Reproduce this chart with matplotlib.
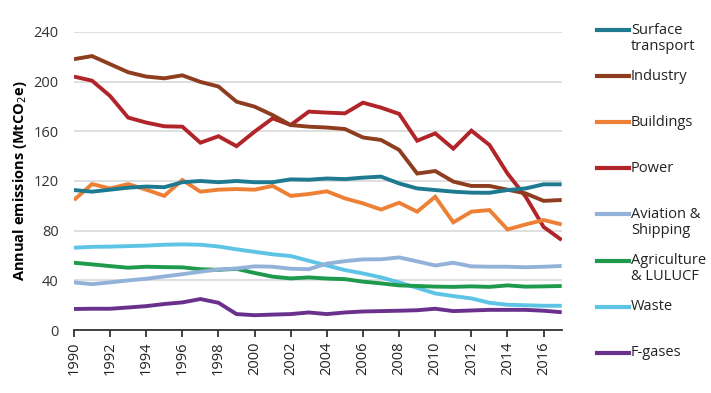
import matplotlib.pyplot as plt
from matplotlib.lines import Line2D

plt.rcParams['font.family'] = ['Open Sans', 'DejaVu Sans']

years = list(range(1990, 2018))

surface_transport = [112.7, 111.4, 113, 114.6, 115.5, 115, 119, 120, 119, 120, 119, 119, 121.3, 121,
                     122, 121.5, 122.7, 123.5, 118, 114, 112.7, 111.4, 110.6, 110.5, 112.7, 114, 117.3, 117.3]
industry = [218, 220.5, 214, 207.5, 204, 202.6, 205, 199.7, 196, 183.8, 179.8, 173, 165, 163.7,
            163, 161.8, 155, 153, 145, 126, 128, 119.5, 116, 116, 113, 110, 104, 104.7]
buildings = [104.7, 117.5, 114, 117.5, 113, 108, 120.8, 111.4, 113, 113.5, 113, 116, 108, 109.5,
             111.7, 106, 102, 97, 102.5, 95.3, 107.3, 86.7, 95.3, 96.6, 81, 85, 88.6, 85]
power = [204, 200.7, 188.4, 171, 167, 164, 163.7, 150.8, 156, 148, 159.7, 170.4, 165, 175.8,
         175, 174.4, 183, 179, 174, 152.4, 158.3, 146, 160.5, 149, 126, 107.5, 83, 72.5]
aviation_shipping = [38.4, 37, 38.4, 40, 41.3, 43.2, 45, 47, 48.8, 49.6, 51.3, 51, 49.4, 49,
                     53.5, 55.5, 56.9, 57, 58.5, 55.3, 52, 54.2, 51.3, 51, 51, 50.6, 51, 51.6]
agriculture = [54.2, 52.9, 51.5, 50.2, 51, 50.7, 50.5, 49, 48.5, 49.3, 46, 43, 41.6, 42.4,
               41.5, 41, 39, 37.6, 36, 35.5, 35, 34.8, 35.2, 34.8, 36, 35, 35.2, 35.5]
waste = [66.3, 67, 67.2, 67.6, 68, 68.7, 69, 68.7, 67.3, 65, 63, 61, 59.6, 55.8,
         52, 48.3, 45.6, 42.4, 38.4, 34, 29.5, 27.4, 25.5, 22, 20.4, 20, 19.6, 19.6]
f_gases = [17, 17.2, 17.2, 18.2, 19.3, 21, 22.3, 25, 22, 12.9, 12, 12.5, 12.9, 14.2,
           12.9, 14.2, 15, 15.3, 15.6, 16, 17.2, 15.3, 15.8, 16.3, 16.3, 16.3, 15.6, 14.4]

labels = ['Surface\ntransport', 'Industry', 'Buildings', 'Power', 'Aviation &\nShipping',
          'Agriculture\n& LULUCF', 'Waste', 'F-gases']
series = [surface_transport, industry, buildings, power, aviation_shipping, agriculture, waste, f_gases]
colors = ['#1d7a91', '#8e3d1f', '#ee8036', '#b1242a', '#93b2d9', '#1f9a4c', '#5ec4e6', '#6a318c']

fig = plt.figure(figsize=(7.11, 3.93), dpi=100)
ax = fig.add_axes([0.104, 0.160, 0.686, 0.759])

# draw from bottom of legend up so that top series sit above
for vals, c in zip(series[::-1], colors[::-1]):
    ax.plot(years, vals, color=c, lw=2.8, solid_joinstyle='miter', solid_capstyle='butt')

ax.set_xlim(1990, 2017)
ax.set_ylim(0, 240)
ax.set_yticks(range(0, 241, 40))
ax.set_xticks(range(1990, 2017, 2))
ax.tick_params(axis='x', rotation=90, length=5, width=1.3, color='#333333', labelsize=10.5,
               labelcolor='#222222', pad=3)
ax.tick_params(axis='y', length=0, labelsize=10.5, labelcolor='#333333', pad=11)
ax.grid(axis='y', color='#dcdcdc', lw=1.3)
ax.set_axisbelow(True)
for s in ['top', 'right', 'left']:
    ax.spines[s].set_visible(False)
ax.spines['bottom'].set_color('#333333')
ax.spines['bottom'].set_linewidth(1.3)
ax.set_ylabel('Annual emissions (MtCO$_2$e)', fontsize=10.5, fontweight='bold', labelpad=3)

# legend drawn on the right, one entry per row
W, H = 711, 393
for i, (lab, c) in enumerate(zip(labels, colors)):
    y = 1 - (30 + i * 46.1) / H
    fig.add_artist(Line2D([597 / W, 629 / W], [y, y], color=c, lw=3))
    fig.text(631 / W, y + 7.5 / H, lab, fontsize=10.5, va='top', ha='left', color='#222222',
             linespacing=1.1)

fig.savefig('out.png', dpi=100)
